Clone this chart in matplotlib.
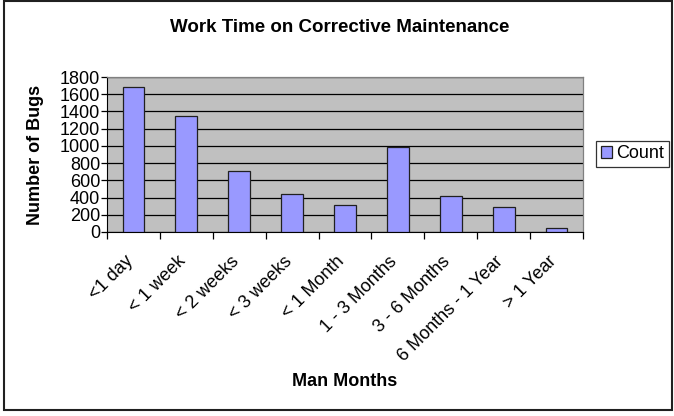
import matplotlib
matplotlib.use("Agg")
import matplotlib.pyplot as plt
from matplotlib.patches import Rectangle
from matplotlib.transforms import ScaledTranslation
import numpy as np

categories = ["<1 day", "< 1 week", "< 2 weeks", "< 3 weeks", "< 1 Month",
              "1 - 3 Months", "3 - 6 Months", "6 Months - 1 Year", "> 1 Year"]
counts = [1683, 1346, 712, 442, 313, 990, 415, 290, 47]
yticks = [0, 200, 400, 600, 800, 1000, 1200, 1400, 1600, 1800]

plt.rcParams['font.family'] = ['Liberation Sans', 'DejaVu Sans']

W, H = 674, 416
fig = plt.figure(figsize=(W/100, H/100), dpi=100)
ax = fig.add_axes([107/W, 1-232/H, (583-107)/W, (232-77)/H])
ax.set_facecolor('#c0c0c0')

x = np.arange(len(categories))
bars = ax.bar(x, counts, width=0.41, color='#9999ff', edgecolor='#202020',
              linewidth=0.9, label='Count', zorder=3)
ax.set_xlim(-0.5, len(categories)-0.5)
ax.set_ylim(0, 1800)
ax.set_yticks(yticks)
ax.set_yticklabels([str(v) for v in yticks], fontsize=13)
ax.yaxis.grid(True, color='black', linewidth=0.9, zorder=1)
ax.set_axisbelow(True)
ax.tick_params(axis='y', length=4, width=0.9, pad=1, direction='out')

# category boundary ticks
ax.set_xticks(np.arange(-0.5, len(categories)+0.5, 1))
ax.set_xticklabels([])
ax.tick_params(axis='x', length=5, width=0.9, direction='out')
ax.set_xticks(x, minor=True)
ax.set_xticklabels(categories, minor=True, rotation=45, ha='right',
                   va='top', rotation_mode='anchor', fontsize=13)
ax.tick_params(axis='x', which='minor', length=0, pad=15)
shift = ScaledTranslation(-9/100, 0, fig.dpi_scale_trans)
for lbl in ax.get_xticklabels(minor=True):
    lbl.set_transform(lbl.get_transform() + shift)

for s in ['top', 'right']:
    ax.spines[s].set_color('#808080')
    ax.spines[s].set_linewidth(0.9)
ax.spines['left'].set_color('black')
ax.spines['bottom'].set_color('black')

fig.text(340/W, 1-27/H, 'Work Time on Corrective Maintenance', ha='center',
         va='center', fontsize=13.5, fontweight='bold')
fig.text(35/W, 1-155/H, 'Number of Bugs', ha='center', va='center',
         rotation=90, fontsize=13, fontweight='bold')
fig.text(345/W, 1-381/H, 'Man Months', ha='center', va='center',
         fontsize=13, fontweight='bold')

leg = fig.legend(handles=[bars], labels=['Count'], loc='center',
                 bbox_to_anchor=(632.5/W, 1-154/H), fontsize=13,
                 frameon=True, fancybox=False, handlelength=0.6,
                 handleheight=0.6, handletextpad=0.25, borderpad=0.25,
                 borderaxespad=0)
leg.get_frame().set_edgecolor('black')
leg.get_frame().set_linewidth(0.9)

fig.patches.append(Rectangle((4/W, 1-410/H), (672-4)/W, 409/H,
                             transform=fig.transFigure, fill=False,
                             edgecolor='#202020', linewidth=1.5))

fig.savefig('out.png', dpi=100)
